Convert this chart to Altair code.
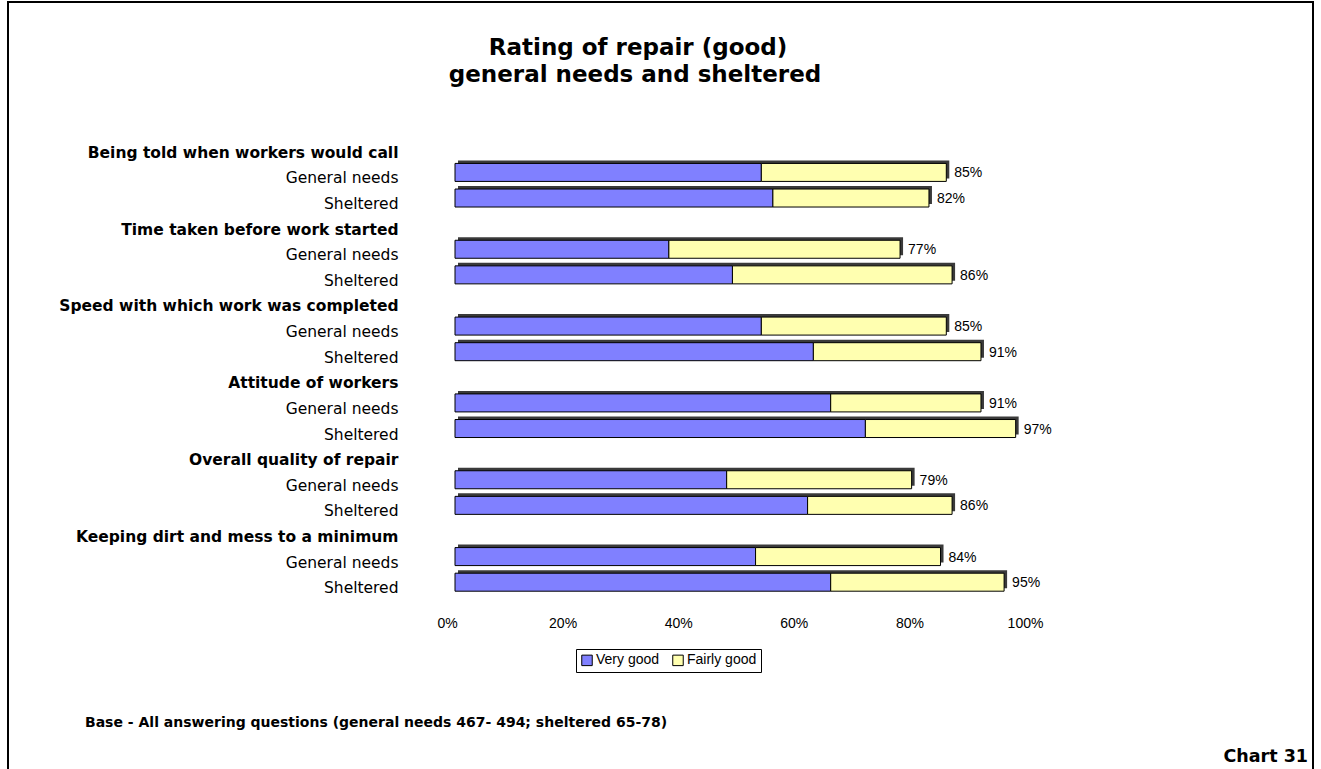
import altair as alt
import pandas as pd

FONT = "Liberation Sans"
WIDE = "DejaVu Sans"

groups = [
    "Being told when workers would call",
    "Time taken before work started",
    "Speed with which work was completed",
    "Attitude of workers",
    "Overall quality of repair",
    "Keeping dirt and mess to a minimum",
]
subgroups = ["General needs", "Sheltered"]
very_good_gn = [0.53, 0.37, 0.53, 0.65, 0.47, 0.52]
total_gn = [0.85, 0.77, 0.85, 0.91, 0.79, 0.84]
very_good_sh = [0.55, 0.48, 0.62, 0.71, 0.61, 0.65]
total_sh = [0.82, 0.86, 0.91, 0.97, 0.86, 0.95]
series = ["Very good", "Fairly good"]
colors = ["#8080ff", "#ffffb0"]
x_ticks = [0, 0.2, 0.4, 0.6, 0.8, 1.0]

row_order = []
seg_rows = []
tot_rows = []
for i, g in enumerate(groups):
    row_order.append(f"H{i}0|{g}")
    for j, (sub, vg, tot) in enumerate(
        [(subgroups[0], very_good_gn[i], total_gn[i]), (subgroups[1], very_good_sh[i], total_sh[i])]
    ):
        key = f"R{i}{j + 1}|{sub}"
        row_order.append(key)
        seg_rows.append({"key": key, "series": series[0], "start": 0.0, "end": vg})
        seg_rows.append({"key": key, "series": series[1], "start": vg, "end": tot})
        tot_rows.append({"key": key, "start": 0.0, "end": tot, "label": f"{round(tot * 100)}%"})

segs = pd.DataFrame(seg_rows)
tots = pd.DataFrame(tot_rows)

y_enc = alt.Y(
    "key:N",
    scale=alt.Scale(domain=row_order, paddingInner=0, paddingOuter=0),
    sort=row_order,
    axis=alt.Axis(
        title=None,
        labelExpr="split(datum.value, '|')[1]",
        labelFontWeight={"condition": {"test": "indexof(datum.value, 'H') == 0", "value": "bold"}, "value": "normal"},
        labelFontSize=15.5,
        labelFont=WIDE,
        labelColor="black",
        labelPadding=49,
        ticks=False,
        domain=False,
        labelLimit=420,
    ),
)

x_axis = alt.Axis(
    title=None,
    format=".0%",
    values=x_ticks,
    grid=False,
    ticks=False,
    domain=False,
    labelFlush=False,
    labelFontSize=14,
    labelFont=FONT,
    labelColor="black",
    labelPadding=15,
)
x_scale = alt.Scale(domain=[0, 1], nice=False, zero=True)

SHIFT = 8

depth = alt.Chart(tots).mark_bar(
    size=18, color="#3a3a3a", xOffset=SHIFT + 3, x2Offset=SHIFT + 3, yOffset=-9
).encode(
    x=alt.X("start:Q", scale=x_scale, axis=x_axis),
    x2="end:Q",
    y=y_enc,
)

bars = alt.Chart(segs).mark_bar(
    size=18, stroke="black", strokeWidth=1, xOffset=SHIFT, x2Offset=SHIFT, yOffset=-6
).encode(
    x=alt.X("start:Q", scale=x_scale, axis=x_axis),
    x2="end:Q",
    y=y_enc,
    color=alt.Color(
        "series:N",
        scale=alt.Scale(domain=series, range=colors),
        legend=alt.Legend(
            title=None,
            orient="none",
            legendX=129,
            legendY=509,
            direction="horizontal",
            strokeColor="black",
            fillColor="white",
            padding=4,
            symbolType="square",
            symbolSize=110,
            symbolStrokeColor="black",
            symbolStrokeWidth=1,
            symbolOpacity=1,
            labelFontSize=14,
            labelFont=FONT,
            labelColor="black",
            columnPadding=10,
            labelOffset=2,
        ),
    ),
)

labels = alt.Chart(tots).mark_text(
    align="left", baseline="middle", dx=SHIFT + 8, dy=-5, fontSize=14, font=FONT, color="black"
).encode(
    x=alt.X("end:Q", scale=x_scale, axis=x_axis),
    y=y_enc,
    text="label:N",
)

one = pd.DataFrame({"a": [0]})

frame = alt.Chart(one).mark_rect(filled=False, stroke="black", strokeWidth=2).encode(
    x=alt.value(-439), x2=alt.value(866), y=alt.value(-138), y2=alt.value(640)
)

title1 = alt.Chart(one).mark_text(
    fontSize=23, fontWeight="bold", font=WIDE, align="center", baseline="middle", color="black"
).encode(x=alt.value(191), y=alt.value(-92), text=alt.value("Rating of repair (good)"))

title2 = alt.Chart(one).mark_text(
    fontSize=23, fontWeight="bold", font=WIDE, align="center", baseline="middle", color="black"
).encode(x=alt.value(188), y=alt.value(-65), text=alt.value("general needs and sheltered"))

foot = alt.Chart(one).mark_text(
    fontSize=14, fontWeight="bold", font=WIDE, align="left", baseline="middle", color="black"
).encode(
    x=alt.value(-362),
    y=alt.value(583),
    text=alt.value("Base - All answering questions (general needs 467- 494; sheltered 65-78)"),
)

chart_no = alt.Chart(one).mark_text(
    fontSize=17.5, fontWeight="bold", font=WIDE, align="right", baseline="middle", color="black"
).encode(x=alt.value(861), y=alt.value(617), text=alt.value("Chart 31"))

chart = (
    alt.layer(depth, bars, labels, frame, title1, title2, foot, chart_no)
    .properties(
        width=578,
        height=461,
        autosize=alt.AutoSizeParams(type="none"),
        padding={"left": 447, "top": 140, "right": 296, "bottom": 168},
        background="white",
    )
    .configure(font=FONT)
    .configure_view(strokeWidth=0, stroke=None)
)

chart.save("out.html", embed_options={"renderer": "svg", "actions": False})
